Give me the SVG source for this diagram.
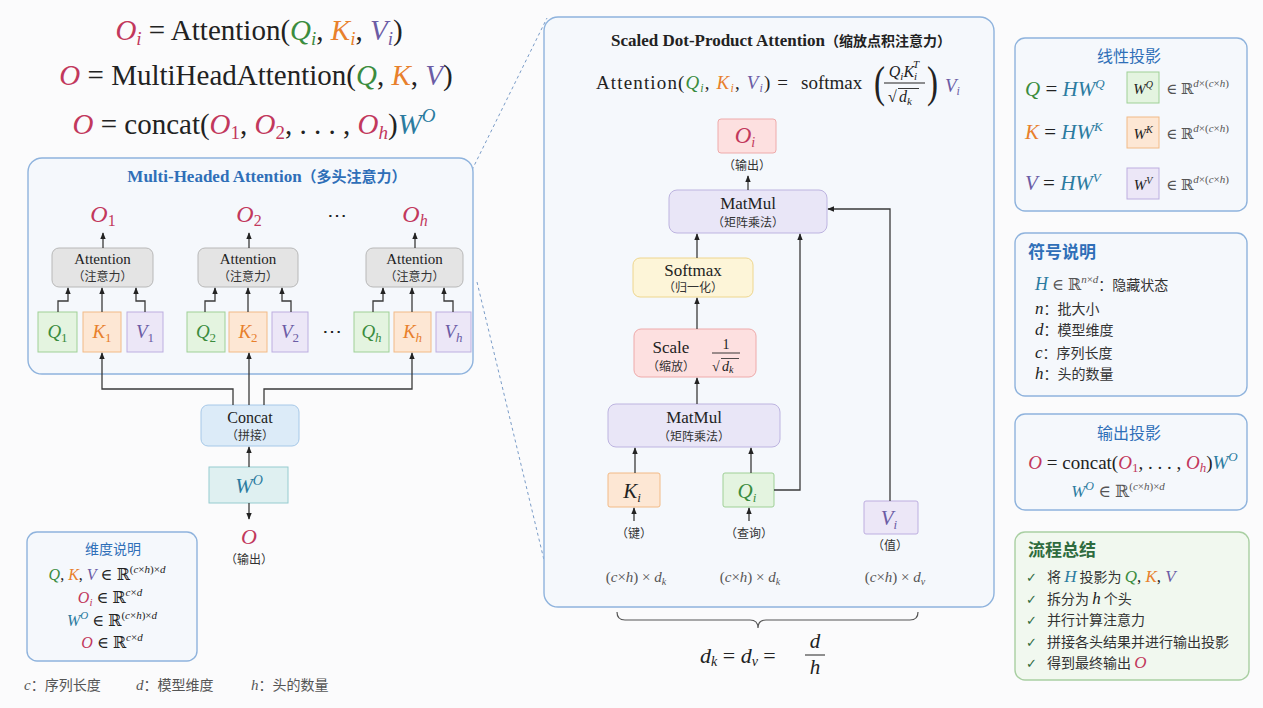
<svg xmlns="http://www.w3.org/2000/svg" width="1263" height="708" viewBox="0 0 1263 708">
<style>
.s{font-family:"Liberation Serif","DejaVu Serif",serif;fill:#222}
.c{font-family:"Noto Sans CJK SC","Noto Sans",sans-serif;fill:#333}
.i{font-style:italic}
.cr{fill:#c2385c}.cg{fill:#3b8c3e}.co{fill:#e8802c}.cp{fill:#6b5ca5}.cb{fill:#2b7ba0}.gy{fill:#555}
.tb{fill:#2f6fb8}
.ln{stroke:#3a3a3a;stroke-width:1.3;fill:none}
.panel{fill:#f5f8fc;stroke:#8fb3dd;stroke-width:1.4}
.att{fill:#e4e4e4;stroke:#b8b8b8;stroke-width:1}
.qb{fill:#e4f4e0;stroke:#9fd096;stroke-width:1}
.kb{fill:#fde7d4;stroke:#f2ba86;stroke-width:1}
.vb{fill:#ece7f7;stroke:#bdaee0;stroke-width:1}
.mm{fill:#e9e6f7;stroke:#bdb4e0;stroke-width:1}
.rb{fill:#fde0e0;stroke:#eeaaaa;stroke-width:1}
.yb{fill:#fdf5d8;stroke:#eed68e;stroke-width:1}
.cb2{fill:#dcebf8;stroke:#a6c8e8;stroke-width:1}
.wb{fill:#dff0f1;stroke:#96cccf;stroke-width:1}
.ck{font-family:"DejaVu Sans",sans-serif;fill:#2e6b3e}
</style>
<defs>
<marker id="ar" viewBox="0 0 10 10" refX="9" refY="5" markerWidth="7" markerHeight="7" orient="auto-start-reverse" markerUnits="userSpaceOnUse">
<path d="M0,1 L10,5 L0,9 z" fill="#222"/>
</marker>
</defs>
<rect x="0" y="0" width="1263" height="708" fill="#fbfbfc"/>

<!-- top formulas -->
<g id="formulas">
<text x="259" y="40" text-anchor="middle" class="s" font-size="29"><tspan class="i cr">O</tspan><tspan class="i cr" font-size="19" dy="5">i</tspan><tspan dy="-5"> = Attention(</tspan><tspan class="i cg">Q</tspan><tspan class="i cg" font-size="19" dy="5">i</tspan><tspan dy="-5">, </tspan><tspan class="i co">K</tspan><tspan class="i co" font-size="19" dy="5">i</tspan><tspan dy="-5">, </tspan><tspan class="i cp">V</tspan><tspan class="i cp" font-size="19" dy="5">i</tspan><tspan dy="-5">)</tspan></text>
<text x="256" y="85" text-anchor="middle" class="s" font-size="29"><tspan class="i cr">O</tspan> = MultiHeadAttention(<tspan class="i cg">Q</tspan>, <tspan class="i co">K</tspan>, <tspan class="i cp">V</tspan>)</text>
<text x="254" y="134" text-anchor="middle" class="s" font-size="29"><tspan class="i cr">O</tspan> = concat(<tspan class="i cr">O</tspan><tspan class="cr" font-size="19" dy="5">1</tspan><tspan dy="-5">, </tspan><tspan class="i cr">O</tspan><tspan class="cr" font-size="19" dy="5">2</tspan><tspan dy="-5">, . . . , </tspan><tspan class="i cr">O</tspan><tspan class="i cr" font-size="19" dy="5">h</tspan><tspan dy="-5">)</tspan><tspan class="i cb">W</tspan><tspan class="i cb" font-size="19" dy="-12">O</tspan></text>
</g>

<!-- dashed zoom lines -->
<g id="zoomlines" stroke="#7a9cc8" stroke-width="1" stroke-dasharray="3,3" fill="none">
<path d="M472,170 L547,18"/>
<path d="M477,282 L544,560"/>
</g>

<!-- multi-head panel -->
<g id="multihead">
<rect x="28" y="158" width="445" height="216" rx="14" class="panel"/>
<text x="267" y="182" text-anchor="middle" font-size="17" class="tb"><tspan font-family="Liberation Serif,serif" font-weight="bold">Multi-Headed Attention</tspan><tspan font-family="Noto Sans CJK SC,sans-serif" font-weight="bold" font-size="15">（多头注意力）</tspan></text>
</g>

<g id="head1">
<text x="103" y="222" text-anchor="middle" class="s i cr" font-size="24">O<tspan font-style="normal" font-size="16" dy="4">1</tspan></text>
<rect x="52" y="248" width="101" height="39" rx="7" class="att"/>
<text x="102.5" y="264" text-anchor="middle" class="s" font-size="15">Attention</text>
<text x="102.5" y="281" text-anchor="middle" class="c" font-size="12">（注意力）</text>
<rect x="38" y="312" width="39" height="40" class="qb"/>
<text x="57.5" y="338" text-anchor="middle" class="s i cg" font-size="19">Q<tspan font-style="normal" font-size="13" dy="4">1</tspan></text>
<rect x="83" y="312" width="38" height="40" class="kb"/>
<text x="102" y="338" text-anchor="middle" class="s i co" font-size="19">K<tspan font-style="normal" font-size="13" dy="4">1</tspan></text>
<rect x="127" y="312" width="36" height="40" class="vb"/>
<text x="145" y="338" text-anchor="middle" class="s i cp" font-size="19">V<tspan font-style="normal" font-size="13" dy="4">1</tspan></text>
</g>

<g id="head2">
<text x="249" y="222" text-anchor="middle" class="s i cr" font-size="24">O<tspan font-style="normal" font-size="16" dy="4">2</tspan></text>
<rect x="198" y="248" width="100" height="39" rx="7" class="att"/>
<text x="248" y="264" text-anchor="middle" class="s" font-size="15">Attention</text>
<text x="248" y="281" text-anchor="middle" class="c" font-size="12">（注意力）</text>
<rect x="187" y="312" width="38" height="40" class="qb"/>
<text x="206" y="338" text-anchor="middle" class="s i cg" font-size="19">Q<tspan font-style="normal" font-size="13" dy="4">2</tspan></text>
<rect x="229" y="312" width="38" height="40" class="kb"/>
<text x="248" y="338" text-anchor="middle" class="s i co" font-size="19">K<tspan font-style="normal" font-size="13" dy="4">2</tspan></text>
<rect x="272" y="312" width="36" height="40" class="vb"/>
<text x="290" y="338" text-anchor="middle" class="s i cp" font-size="19">V<tspan font-style="normal" font-size="13" dy="4">2</tspan></text>
</g>

<g id="dots">
<text x="337" y="222" text-anchor="middle" class="s" font-size="20">⋯</text>
<text x="332" y="338" text-anchor="middle" class="s" font-size="20">⋯</text>
</g>

<g id="headh">
<text x="415" y="222" text-anchor="middle" class="s i cr" font-size="24">O<tspan font-size="16" dy="4">h</tspan></text>
<rect x="366" y="248" width="97" height="39" rx="7" class="att"/>
<text x="414.5" y="264" text-anchor="middle" class="s" font-size="15">Attention</text>
<text x="414.5" y="281" text-anchor="middle" class="c" font-size="12">（注意力）</text>
<rect x="354" y="312" width="35" height="40" class="qb"/>
<text x="371.5" y="338" text-anchor="middle" class="s i cg" font-size="19">Q<tspan font-size="13" dy="4">h</tspan></text>
<rect x="394" y="312" width="37" height="40" class="kb"/>
<text x="412.5" y="338" text-anchor="middle" class="s i co" font-size="19">K<tspan font-size="13" dy="4">h</tspan></text>
<rect x="436" y="312" width="35" height="40" class="vb"/>
<text x="453.5" y="338" text-anchor="middle" class="s i cp" font-size="19">V<tspan font-size="13" dy="4">h</tspan></text>
</g>

<g id="concat">
<rect x="201" y="405" width="98" height="41" rx="7" class="cb2"/>
<text x="250" y="423" text-anchor="middle" class="s" font-size="16">Concat</text>
<text x="250" y="440" text-anchor="middle" class="c" font-size="12">（拼接）</text>
</g>
<g id="wo">
<rect x="209" y="467" width="79" height="36" class="wb"/>
<text x="249" y="493" text-anchor="middle" class="s i cb" font-size="21">W<tspan font-size="14" dy="-8">O</tspan></text>
</g>
<g id="output">
<text x="249" y="544" text-anchor="middle" class="s i cr" font-size="22">O</text>
<text x="249" y="564" text-anchor="middle" class="c" font-size="12">（输出）</text>
</g>

<!-- dimension box -->
<g id="dims">
<rect x="27" y="532" width="170" height="129" rx="10" class="panel"/>
<text x="113" y="554" text-anchor="middle" class="c tb" font-size="14">维度说明</text>
<text x="107" y="580" text-anchor="middle" class="s" font-size="16"><tspan class="i cg">Q</tspan>, <tspan class="i co">K</tspan>, <tspan class="i cp">V</tspan> ∈ ℝ<tspan font-size="11" dy="-7">(<tspan class="i">c</tspan>×<tspan class="i">h</tspan>)×<tspan class="i">d</tspan></tspan></text>
<text x="110" y="603" text-anchor="middle" class="s" font-size="16"><tspan class="i cr">O</tspan><tspan class="i cr" font-size="11" dy="3">i</tspan><tspan dy="-3"> ∈ ℝ</tspan><tspan font-size="11" dy="-7"><tspan class="i">c</tspan>×<tspan class="i">d</tspan></tspan></text>
<text x="112" y="626" text-anchor="middle" class="s" font-size="16"><tspan class="i cb">W</tspan><tspan class="i cb" font-size="11" dy="-7">O</tspan><tspan dy="7"> ∈ ℝ</tspan><tspan font-size="11" dy="-7">(<tspan class="i">c</tspan>×<tspan class="i">h</tspan>)×<tspan class="i">d</tspan></tspan></text>
<text x="112" y="648" text-anchor="middle" class="s" font-size="16"><tspan class="i cr">O</tspan> ∈ ℝ<tspan font-size="11" dy="-7"><tspan class="i">c</tspan>×<tspan class="i">d</tspan></tspan></text>
</g>
<g id="legend">
<text x="24" y="690" font-size="14" class="c gy"><tspan class="s i gy" font-size="15">c</tspan>：序列长度</text>
<text x="136" y="690" font-size="14" class="c gy"><tspan class="s i gy" font-size="15">d</tspan>：模型维度</text>
<text x="251" y="690" font-size="14" class="c gy"><tspan class="s i gy" font-size="15">h</tspan>：头的数量</text>
</g>

<!-- scaled dot-product panel -->
<g id="sdpa">
<rect x="544" y="17" width="450" height="590" rx="14" class="panel"/>
<text x="781" y="46" text-anchor="middle" font-size="17" fill="#222"><tspan font-family="Liberation Serif,serif" font-weight="bold">Scaled Dot-Product Attention</tspan><tspan font-family="Noto Sans CJK SC,sans-serif" font-weight="bold" font-size="14">（缩放点积注意力）</tspan></text>
<text x="596" y="89" class="s" font-size="19" textLength="192" lengthAdjust="spacing">Attention(<tspan class="i cg">Q</tspan><tspan class="i cg" font-size="12" dy="3">i</tspan><tspan dy="-3">, </tspan><tspan class="i co">K</tspan><tspan class="i co" font-size="12" dy="3">i</tspan><tspan dy="-3">, </tspan><tspan class="i cp">V</tspan><tspan class="i cp" font-size="12" dy="3">i</tspan><tspan dy="-3">) =</tspan></text>
<text x="801" y="89" class="s" font-size="19">softmax</text>
<text x="874" y="97" class="s" font-size="44" transform="translate(874,97) scale(0.75,1) translate(-874,-97)">(</text>
<text x="927" y="97" class="s" font-size="44" transform="translate(927,97) scale(0.75,1) translate(-927,-97)">)</text>
<text x="904" y="77" text-anchor="middle" class="s i" font-size="16">Q<tspan font-size="11" dy="3">i</tspan><tspan dy="-3">K</tspan><tspan font-size="11" dy="3">i</tspan><tspan font-size="11" dy="-12" dx="-4">T</tspan></text>
<line x1="884" y1="83" x2="925" y2="83" stroke="#222" stroke-width="1"/>
<text x="888" y="102" class="s" font-size="16">√</text>
<line x1="898" y1="88.5" x2="919" y2="88.5" stroke="#222" stroke-width="0.9"/>
<text x="899" y="102" class="s i" font-size="16">d<tspan font-size="11" dy="3">k</tspan></text>
<text x="945" y="92" class="s i cp" font-size="19">V<tspan font-size="12" dy="3">i</tspan></text>
</g>

<g id="oi">
<rect x="718" y="119" width="58" height="34" rx="3" class="rb"/>
<text x="745" y="143" text-anchor="middle" class="s i cr" font-size="23">O<tspan font-size="14" dy="4">i</tspan></text>
<text x="747" y="170" text-anchor="middle" class="c" font-size="12">（输出）</text>
</g>
<g id="matmul2">
<rect x="669" y="190" width="158" height="43" rx="8" class="mm"/>
<text x="748" y="209" text-anchor="middle" class="s" font-size="17">MatMul</text>
<text x="748" y="227" text-anchor="middle" class="c" font-size="12">（矩阵乘法）</text>
</g>
<g id="softmax">
<rect x="633" y="258" width="120" height="39" rx="7" class="yb"/>
<text x="693" y="276" text-anchor="middle" class="s" font-size="17">Softmax</text>
<text x="693" y="292" text-anchor="middle" class="c" font-size="12">（归一化）</text>
</g>
<g id="scale">
<rect x="634" y="329" width="122" height="48" rx="7" class="rb"/>
<text x="671" y="353" text-anchor="middle" class="s" font-size="17">Scale</text>
<text x="671" y="371" text-anchor="middle" class="c" font-size="12">（缩放）</text>
<text x="726" y="349" text-anchor="middle" class="s" font-size="14">1</text>
<line x1="712" y1="353" x2="740" y2="353" stroke="#222" stroke-width="0.9"/>
<text x="712" y="371" class="s" font-size="14">√</text>
<line x1="721" y1="358.5" x2="739" y2="358.5" stroke="#222" stroke-width="0.8"/>
<text x="722" y="371" class="s i" font-size="14">d<tspan font-size="10" dy="2">k</tspan></text>
</g>
<g id="matmul1">
<rect x="608" y="404" width="172" height="43" rx="8" class="mm"/>
<text x="694" y="423" text-anchor="middle" class="s" font-size="17">MatMul</text>
<text x="694" y="441" text-anchor="middle" class="c" font-size="12">（矩阵乘法）</text>
</g>
<g id="ki">
<rect x="608" y="473" width="52" height="34" rx="2" class="kb"/>
<text x="632" y="498" text-anchor="middle" class="s i" fill="#b85a1c" font-size="21">K<tspan font-size="13" dy="4">i</tspan></text>
<text x="634" y="538" text-anchor="middle" class="c" font-size="12">（键）</text>
<text x="636" y="582" text-anchor="middle" class="s gy" font-size="15">(<tspan class="i">c</tspan>×<tspan class="i">h</tspan>) × <tspan class="i">d</tspan><tspan class="i" font-size="10" dy="3">k</tspan></text>
</g>
<g id="qi">
<rect x="723" y="473" width="51" height="34" rx="2" class="qb"/>
<text x="747" y="498" text-anchor="middle" class="s i cg" font-size="21">Q<tspan font-size="13" dy="4">i</tspan></text>
<text x="749" y="538" text-anchor="middle" class="c" font-size="12">（查询）</text>
<text x="750" y="582" text-anchor="middle" class="s gy" font-size="15">(<tspan class="i">c</tspan>×<tspan class="i">h</tspan>) × <tspan class="i">d</tspan><tspan class="i" font-size="10" dy="3">k</tspan></text>
</g>
<g id="vi">
<rect x="864" y="501" width="54" height="33" rx="2" class="vb"/>
<text x="889" y="525" text-anchor="middle" class="s i cp" font-size="21">V<tspan font-size="13" dy="4">i</tspan></text>
<text x="890" y="550" text-anchor="middle" class="c" font-size="12">（值）</text>
<text x="895" y="582" text-anchor="middle" class="s gy" font-size="15">(<tspan class="i">c</tspan>×<tspan class="i">h</tspan>) × <tspan class="i">d</tspan><tspan class="i" font-size="10" dy="3">v</tspan></text>
</g>
<g id="brace">
<path d="M617,612 Q617,620 625,620 H750 Q758,620 758,628 Q758,620 766,620 H910 Q918,620 918,612" fill="none" stroke="#555" stroke-width="1.2"/>
<text x="700" y="663" class="s i" font-size="22">d<tspan font-size="14" dy="3">k</tspan><tspan font-style="normal" dy="-3"> = </tspan>d<tspan font-size="14" dy="3">v</tspan><tspan font-style="normal" dy="-3"> = </tspan></text>
<text x="815" y="648" text-anchor="middle" class="s i" font-size="21">d</text>
<line x1="805" y1="655" x2="825" y2="655" stroke="#222" stroke-width="1"/>
<text x="815" y="674" text-anchor="middle" class="s i" font-size="21">h</text>
</g>

<!-- connectors -->
<g id="connectors" class="ln">
<path d="M103,248 V233" marker-end="url(#ar)"/>
<path d="M249,248 V233" marker-end="url(#ar)"/>
<path d="M415,248 V233" marker-end="url(#ar)"/>
<path d="M58,312 V301 H68 V288" marker-end="url(#ar)"/>
<path d="M102,312 V288" marker-end="url(#ar)"/>
<path d="M145,312 V301 H136 V288" marker-end="url(#ar)"/>
<path d="M205,312 V301 H215 V288" marker-end="url(#ar)"/>
<path d="M248,312 V288" marker-end="url(#ar)"/>
<path d="M291,312 V301 H282 V288" marker-end="url(#ar)"/>
<path d="M373,312 V301 H383 V288" marker-end="url(#ar)"/>
<path d="M412,312 V288" marker-end="url(#ar)"/>
<path d="M453,312 V301 H444 V288" marker-end="url(#ar)"/>
<path d="M233,405 V389 H102 V353" marker-end="url(#ar)"/>
<path d="M249,405 V353" marker-end="url(#ar)"/>
<path d="M264,405 V389 H412 V353" marker-end="url(#ar)"/>
<path d="M249,467 V447" marker-end="url(#ar)"/>
<path d="M249,503 V519" marker-end="url(#ar)"/>
<path d="M748,190 V176" marker-end="url(#ar)"/>
<path d="M697,258 V234" marker-end="url(#ar)"/>
<path d="M697,329 V298" marker-end="url(#ar)"/>
<path d="M697,404 V378" marker-end="url(#ar)"/>
<path d="M635,473 V448" marker-end="url(#ar)"/>
<path d="M751,473 V448" marker-end="url(#ar)"/>
<path d="M774,490 H800 V234" marker-end="url(#ar)"/>
<path d="M890,501 V209 H828" marker-end="url(#ar)"/>
<path d="M634,521 V508" marker-end="url(#ar)"/>
<path d="M749,521 V508" marker-end="url(#ar)"/>
</g>

<!-- right panels -->
<g id="proj">
<rect x="1015" y="38" width="232" height="173" rx="10" class="panel"/>
<text x="1129" y="62" text-anchor="middle" class="c tb" font-size="16">线性投影</text>
<text x="1025" y="96" class="s" font-size="21"><tspan class="i cg">Q</tspan> = <tspan class="i cb">HW</tspan><tspan class="i cb" font-size="13" dy="-8">Q</tspan></text>
<rect x="1127" y="72" width="32" height="31" class="qb"/>
<text x="1143" y="94" text-anchor="middle" class="s i" fill="#444" font-size="15">W<tspan font-size="10" dy="-6">Q</tspan></text>
<text x="1166" y="94" class="s gy" font-size="15">∈ ℝ<tspan class="i" font-size="11" dy="-7">d</tspan><tspan font-size="11">×(</tspan><tspan class="i" font-size="11">c</tspan><tspan font-size="11">×</tspan><tspan class="i" font-size="11">h</tspan><tspan font-size="11">)</tspan></text>
<text x="1025" y="139" class="s" font-size="21"><tspan class="i co">K</tspan> = <tspan class="i cb">HW</tspan><tspan class="i cb" font-size="13" dy="-8">K</tspan></text>
<rect x="1127" y="117" width="32" height="31" class="kb"/>
<text x="1143" y="139" text-anchor="middle" class="s i" fill="#444" font-size="15">W<tspan font-size="10" dy="-6">K</tspan></text>
<text x="1166" y="139" class="s gy" font-size="15">∈ ℝ<tspan class="i" font-size="11" dy="-7">d</tspan><tspan font-size="11">×(</tspan><tspan class="i" font-size="11">c</tspan><tspan font-size="11">×</tspan><tspan class="i" font-size="11">h</tspan><tspan font-size="11">)</tspan></text>
<text x="1025" y="190" class="s" font-size="21"><tspan class="i cp">V</tspan> = <tspan class="i cb">HW</tspan><tspan class="i cb" font-size="13" dy="-8">V</tspan></text>
<rect x="1127" y="168" width="32" height="31" class="vb"/>
<text x="1143" y="190" text-anchor="middle" class="s i" fill="#444" font-size="15">W<tspan font-size="10" dy="-6">V</tspan></text>
<text x="1166" y="190" class="s gy" font-size="15">∈ ℝ<tspan class="i" font-size="11" dy="-7">d</tspan><tspan font-size="11">×(</tspan><tspan class="i" font-size="11">c</tspan><tspan font-size="11">×</tspan><tspan class="i" font-size="11">h</tspan><tspan font-size="11">)</tspan></text>
</g>

<g id="symbols">
<rect x="1015" y="233" width="232" height="163" rx="10" class="panel"/>
<text x="1028" y="258" class="c tb" font-size="17" font-weight="bold">符号说明</text>
<text x="1035" y="290" class="c" font-size="14"><tspan class="s i cb" font-size="18">H</tspan><tspan class="s gy" font-size="16"> ∈ ℝ</tspan><tspan class="s i gy" font-size="11" dy="-7">n</tspan><tspan class="s gy" font-size="11">×</tspan><tspan class="s i gy" font-size="11">d</tspan><tspan dy="7">：隐藏状态</tspan></text>
<text x="1035" y="314" class="c" font-size="14"><tspan class="s i" font-size="17">n</tspan>：批大小</text>
<text x="1035" y="335" class="c" font-size="14"><tspan class="s i" font-size="17">d</tspan>：模型维度</text>
<text x="1035" y="358" class="c" font-size="14"><tspan class="s i" font-size="17">c</tspan>：序列长度</text>
<text x="1035" y="379" class="c" font-size="14"><tspan class="s i" font-size="17">h</tspan>：头的数量</text>
</g>

<g id="outproj">
<rect x="1015" y="414" width="232" height="96" rx="10" class="panel"/>
<text x="1129" y="439" text-anchor="middle" class="c tb" font-size="16">输出投影</text>
<text x="1133" y="469" text-anchor="middle" class="s" font-size="19"><tspan class="i cr">O</tspan> = concat(<tspan class="i cr">O</tspan><tspan class="cr" font-size="13" dy="3">1</tspan><tspan dy="-3">, . . . , </tspan><tspan class="i cr">O</tspan><tspan class="i cr" font-size="13" dy="3">h</tspan><tspan dy="-3">)</tspan><tspan class="i cb">W</tspan><tspan class="i cb" font-size="13" dy="-8">O</tspan></text>
<text x="1118" y="497" text-anchor="middle" class="s" font-size="17"><tspan class="i cb">W</tspan><tspan class="i cb" font-size="12" dy="-7">O</tspan><tspan class="gy" dy="7"> ∈ ℝ</tspan><tspan class="gy" font-size="11" dy="-7">(<tspan class="i">c</tspan>×<tspan class="i">h</tspan>)×<tspan class="i">d</tspan></tspan></text>
</g>

<g id="summary">
<rect x="1015" y="532" width="234" height="148" rx="10" fill="#f1f8ef" stroke="#a9cfa2" stroke-width="1.4"/>
<text x="1028" y="556" class="c" font-size="17" font-weight="bold" style="fill:#2e6b3e">流程总结</text>
<text x="1026" y="582" class="ck" font-size="13">✓</text>
<text x="1047" y="582" class="c" font-size="14">将 <tspan class="s i cb" font-size="17">H</tspan> 投影为 <tspan class="s i cg" font-size="17">Q</tspan><tspan class="s" font-size="17">, </tspan><tspan class="s i co" font-size="17">K</tspan><tspan class="s" font-size="17">, </tspan><tspan class="s i cp" font-size="17">V</tspan></text>
<text x="1026" y="604" class="ck" font-size="13">✓</text>
<text x="1047" y="604" class="c" font-size="14">拆分为 <tspan class="s i" font-size="17">h</tspan> 个头</text>
<text x="1026" y="625" class="ck" font-size="13">✓</text>
<text x="1047" y="625" class="c" font-size="14">并行计算注意力</text>
<text x="1026" y="647" class="ck" font-size="13">✓</text>
<text x="1047" y="647" class="c" font-size="14">拼接各头结果并进行输出投影</text>
<text x="1026" y="668" class="ck" font-size="13">✓</text>
<text x="1047" y="668" class="c" font-size="14">得到最终输出 <tspan class="s i cr" font-size="17">O</tspan></text>
</g>
</svg>
